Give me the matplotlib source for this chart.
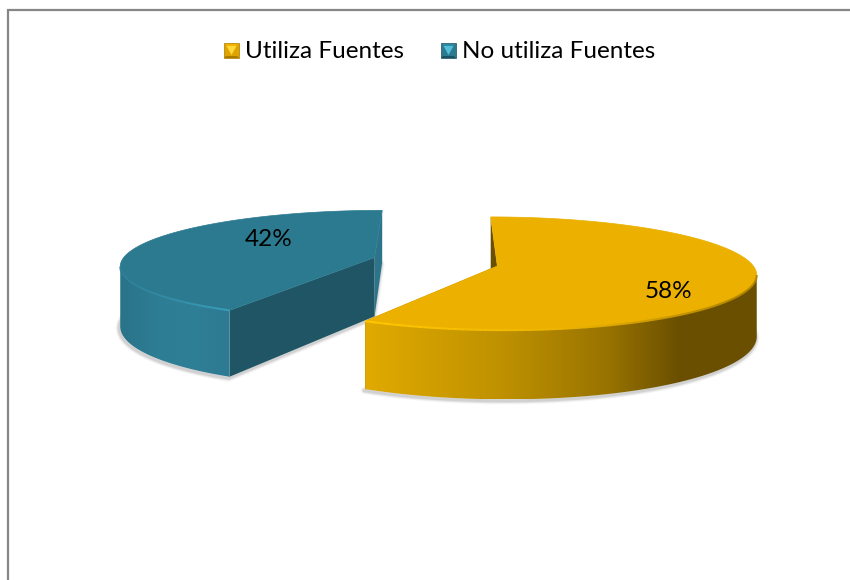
import numpy as np
import matplotlib
matplotlib.use('Agg')
import matplotlib.pyplot as plt
from matplotlib.collections import LineCollection
from matplotlib.colors import LinearSegmentedColormap
from matplotlib.patches import Polygon

categorias = ['Utiliza Fuentes', 'No utiliza Fuentes']
porcentajes = [58, 42]

# Camara del pastel en perspectiva
CX, CY = 441, 266
RX, RY = 256, 55.6
K = 0.133
ALTO = 60

plt.rcParams['font.family'] = ['Lato', 'DejaVu Sans']

fig = plt.figure(figsize=(8.5, 5.8), dpi=100)
ax = fig.add_axes([0, 0, 1, 1])
ax.set_xlim(0, 850)
ax.set_ylim(580, 0)
ax.axis('off')


def proyectar(x, y):
    s = 1 / (1 + K * y)
    return CX + RX * x * s, CY - RY * y * s, s


def arco(centro, a0, a1):
    t = np.radians(np.linspace(a0, a1, 300))
    return proyectar(centro[0] + np.sin(t), centro[1] + np.cos(t))


def sombra(xy):
    # sombra suave bajo la base de cada porcion
    for ancho, alfa in [(5, 0.05), (3.6, 0.08), (2.2, 0.12)]:
        ax.add_patch(Polygon(xy + [-1, 1.5], closed=True, fill=False, ec='#404040',
                             lw=ancho, alpha=alfa, joinstyle='round', zorder=1))


def porcion(centro, a0, a1, color, pared_frente, pared_fondo, gradiente, brillo, zorder):
    xt, yt, s = arco(centro, a0, a1)
    yb = yt + ALTO * s
    cx, cy, cs = proyectar(*centro)
    cyb = cy + ALTO * cs

    # pared del corte trasero (angulo final)
    fondo = [(cx, cy), (xt[-1], yt[-1]), (xt[-1], yb[-1]), (cx, cyb)]
    ax.add_patch(Polygon(fondo, closed=True, fc=pared_fondo, ec='none', zorder=zorder))
    # pared del corte delantero (angulo inicial)
    frente = [(cx, cy), (xt[0], yt[0]), (xt[0], yb[0]), (cx, cyb)]
    ax.add_patch(Polygon(frente, closed=True, fc=pared_frente, ec='none', zorder=zorder))

    # borde curvo con degradado horizontal, solo el tramo visible hasta el extremo
    extremo = np.argmax(np.abs(xt - cx)) + 1
    xf, yf, ybf = xt[:extremo], yt[:extremo], yb[:extremo]
    borde = np.r_[np.c_[xf, yf], np.c_[xf, ybf][::-1]]
    mapa = LinearSegmentedColormap.from_list('borde', gradiente)
    img = ax.imshow(np.linspace(0, 1, 256)[None, :], cmap=mapa, aspect='auto',
                    extent=(xf.min(), xf.max(), ybf.max(), yf.min()), zorder=zorder)
    img.set_clip_path(Polygon(borde, closed=True, transform=ax.transData))

    # cara superior
    tapa = np.r_[[[cx, cy]], np.c_[xt, yt]]
    ax.add_patch(Polygon(tapa, closed=True, fc=color, ec=color, lw=0.5, zorder=zorder))

    # bisel del borde frontal
    pts = np.c_[xf, yf]
    segs = np.stack([pts[:-1], pts[1:]], axis=1)
    mapa_b = LinearSegmentedColormap.from_list('bisel', brillo)
    tonos = mapa_b((pts[:-1, 0] - pts[:, 0].min()) / np.ptp(pts[:, 0]))
    ax.add_collection(LineCollection(segs, colors=tonos, linewidths=1.5, zorder=zorder))


def cuadro_leyenda(x, y, lado, base, claro, medio, oscuro):
    c = lado / 2
    ax.add_patch(Polygon([(x, y), (x + lado, y), (x + lado, y + lado), (x, y + lado)],
                         closed=True, fc=base, ec=oscuro, lw=0.5, zorder=6))
    ax.add_patch(Polygon([(x, y + lado), (x + lado, y + lado), (x + lado - 2, y + lado - 2), (x + 2, y + lado - 2)],
                         closed=True, fc=oscuro, ec='none', zorder=7))
    ax.add_patch(Polygon([(x + 1, y + 1), (x + lado - 1, y + 1), (x + lado - 3, y + 3), (x + 3, y + 3)],
                         closed=True, fc=medio, ec='none', zorder=7))
    ax.add_patch(Polygon([(x + 2.5, y + 3), (x + lado - 2.5, y + 3), (x + c, y + lado - 3)],
                         closed=True, fc=claro, ec='none', zorder=7))


angulo = 360 * np.array(porcentajes) / sum(porcentajes)

centro_amarillo = (0.22, 0.0)
centro_azul = (-0.265, 0.155)

# Sombras bajo ambas porciones
for centro, a0, a1 in [(centro_azul, angulo[0], 360), (centro_amarillo, 0, angulo[0])]:
    xs, ys, ss = arco(centro, a0, a1)
    ccx, ccy, ccs = proyectar(*centro)
    sombra(np.r_[[[ccx, ccy + ALTO * ccs]], np.c_[xs, ys + ALTO * ss]])

porcion(centro_azul, angulo[0], 360, '#2c7a90', '#1f5565', '#2b7489',
        ['#2a7389', '#2d7d94', '#2f7f97', '#2d7a92'],
        ['#2f7f97', '#38a0bb'], 2)
porcion(centro_amarillo, angulo[0], 0, '#ebb000', '#6a4f00', '#6a4f00',
        [(0, '#e0aa00'), (0.35, '#bf9100'), (0.62, '#987300'), (0.8, '#6b5000'), (1, '#6a4f00')],
        ['#ffc800', '#eeb400', '#a67f00'], 3)

# Marco del grafico
ax.plot([8, 8, 850], [580, 10, 10], color='#868686', lw=1.6, solid_joinstyle='miter', zorder=5)

# Leyenda
cuadro_leyenda(224, 43, 15, '#e0a400', '#ffd83a', '#f5b400', '#a87c00')
ax.text(245, 51, categorias[0], fontsize=17.5, color='black', va='center', ha='left', zorder=8)
cuadro_leyenda(441, 43, 15, '#2c7a90', '#53bcd6', '#2f8aa3', '#1d5161')
ax.text(462, 51, categorias[1], fontsize=17.5, color='black', va='center', ha='left', zorder=8)

# Etiquetas de porcentaje
ax.text(668, 291.5, f'{porcentajes[0]}%', fontsize=17.5, color='black', va='center', ha='center', zorder=8)
ax.text(269, 239.5, f'{porcentajes[1]}%', fontsize=17.5, color='black', va='center', ha='center', zorder=8)

ax.set_xlim(0, 850)
ax.set_ylim(580, 0)
fig.savefig('out.png', dpi=100, facecolor='white')
